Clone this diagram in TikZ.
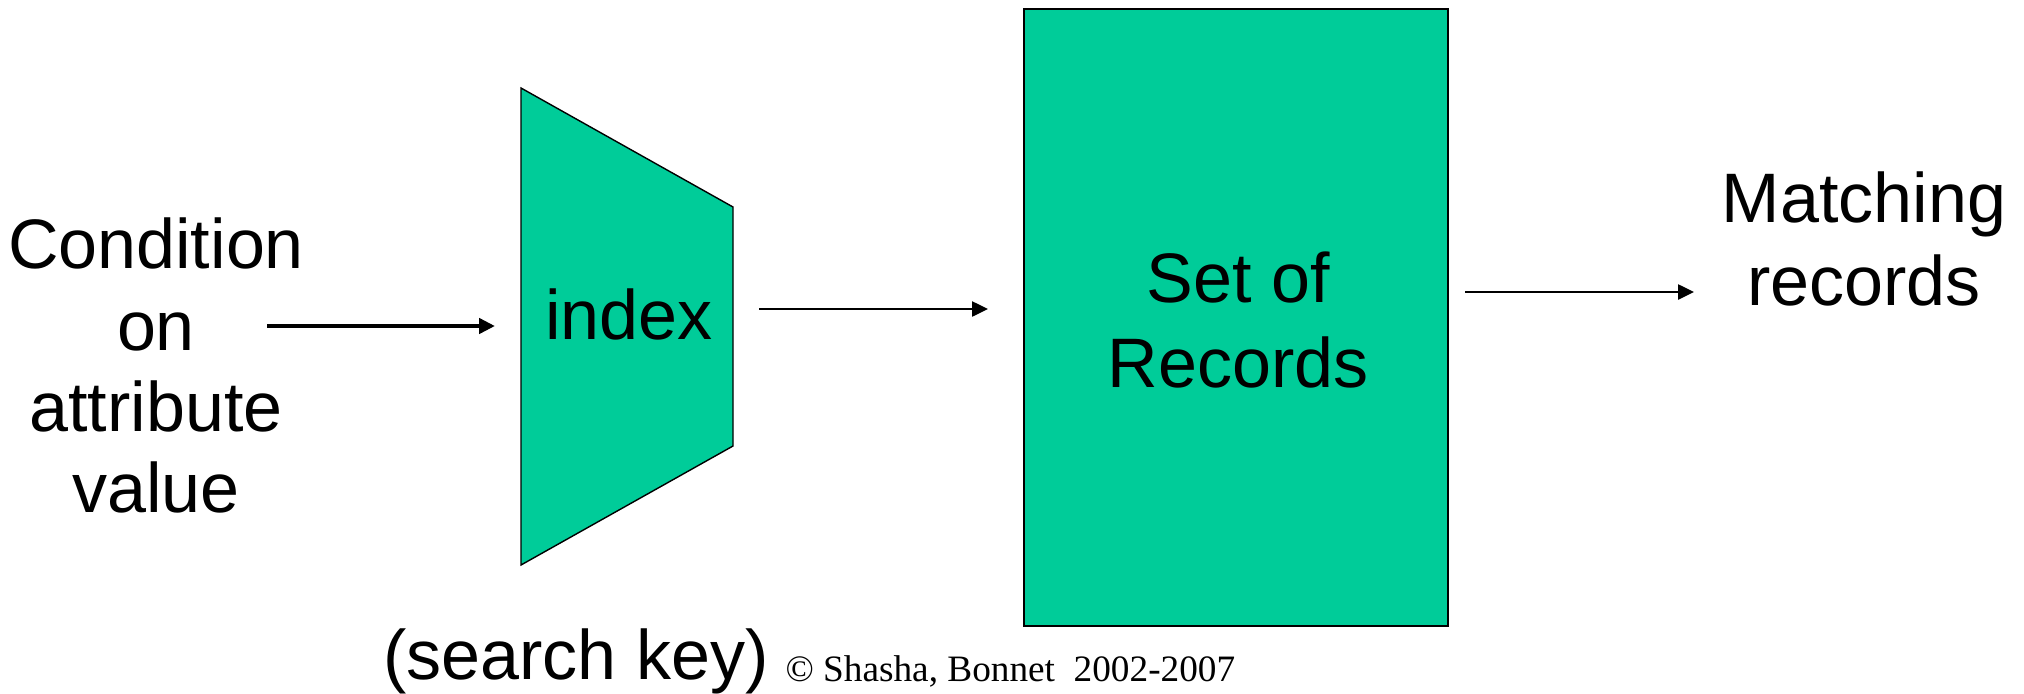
\documentclass[tikz,border=0pt]{standalone}
\usepackage{fontspec}
\setmainfont{Liberation Sans}
\newfontfamily\copyfont{Liberation Serif}
\usetikzlibrary{arrows.meta}
\definecolor{boxgreen}{RGB}{0,204,153}
\tikzset{
  txt/.style={font=\fontsize{25}{30}\selectfont, anchor=base, inner sep=0pt, outer sep=0pt},
  flow/.style={-{Triangle[length=5.7pt,width=5.4pt]}, line width=0.71pt},
  boldflow/.style={flow, line width=1.45pt},
  shade/.style={fill=boxgreen, draw=black},
}
\begin{document}
\begin{tikzpicture}[x=0.012549cm, y=-0.012549cm]
  \useasboundingbox (0,0) rectangle (2024,693);

  % input condition
  \node[txt] (cond1) at (156,268) {Condition};
  \node[txt] (cond2) at (156,350) {on};
  \node[txt] (cond3) at (156,431) {attribute};
  \node[txt] (cond4) at (156,512) {value};

  % index as a trapezoid
  \coordinate (itl) at (521,88);
  \coordinate (itr) at (733,207);
  \coordinate (ibr) at (733,446);
  \coordinate (ibl) at (521,565);
  \path[shade, line width=0.5pt, line join=miter] (itl) -- (itr) -- (ibr) -- (ibl) -- cycle;
  \node[txt] (idx) at (629,339) {index};

  % set of records
  \node[shade, line width=0.75pt, minimum width=5.321cm, minimum height=7.743cm,
        inner sep=0pt, outer sep=0pt, anchor=north west] (recs) at (1024,9) {};
  \node[txt] (rec1) at (1238,302) {Set of};
  \node[txt] (rec2) at (1238,387) {Records};

  % output
  \node[txt] (out1) at (1864,222) {Matching};
  \node[txt] (out2) at (1864,305) {records};

  % connector end points
  \coordinate (a1s) at (267,326);
  \coordinate (a1e) at (495,326);
  \coordinate (a2s) at (759,309);
  \coordinate (a2e) at (988,309);
  \coordinate (a3s) at (1465,292);
  \coordinate (a3e) at (1694,292);
  \draw[boldflow] (a1s) -- (a1e);
  \draw[flow] (a2s) -- (a2e);
  \draw[flow] (a3s) -- (a3e);

  % caption and copyright
  \node[txt] (key) at (576,679) {(search key)};
  \node[anchor=base west, inner sep=0pt, font=\copyfont\fontsize{13.3}{16}\selectfont]
       (copy) at (785,681) {\textcopyright{} Shasha, Bonnet\ \ 2002-2007};
\end{tikzpicture}
\end{document}
